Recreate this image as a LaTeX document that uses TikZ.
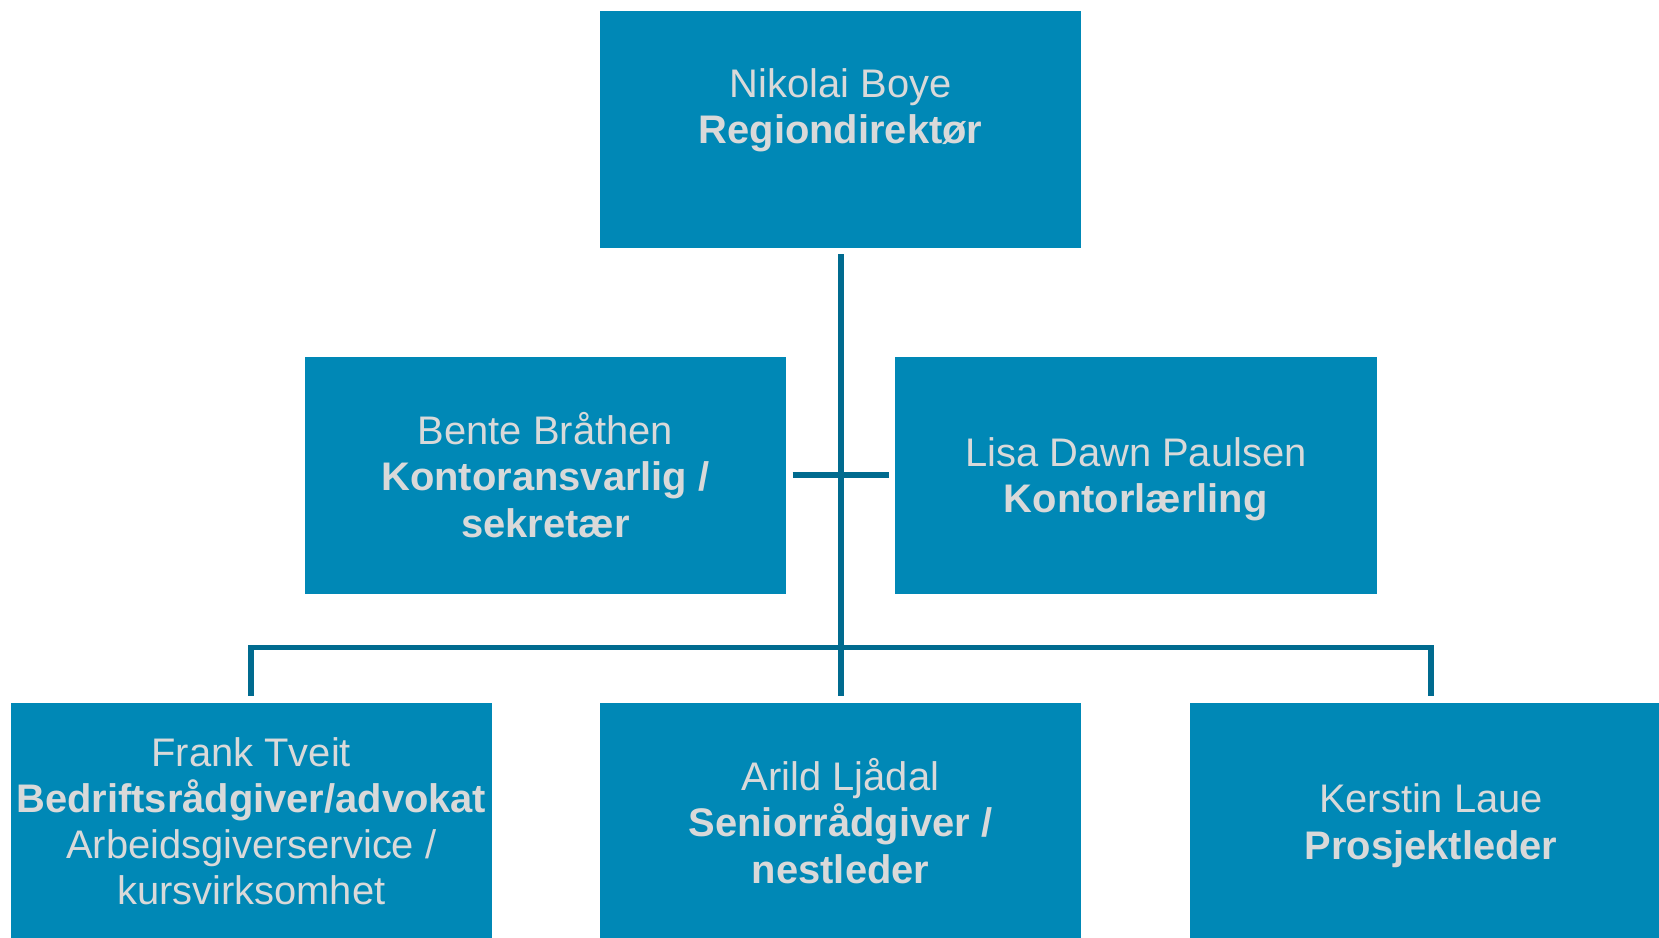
\documentclass[tikz,border=0pt]{standalone}
\usepackage{fontspec}
\setmainfont{Liberation Sans}
\definecolor{boxblue}{RGB}{0,136,182}
\definecolor{txtgrey}{RGB}{217,217,217}
\definecolor{linecol}{RGB}{0,107,143}
\begin{document}
\begin{tikzpicture}[x=1pt,y=1pt,
  orgbox/.style={fill=boxblue, draw=none, minimum width=455pt, minimum height=224pt,
    inner sep=0pt, align=center, text=txtgrey, font=\fontsize{37.7}{43.6}\selectfont},
  conn/.style={draw=linecol, line width=5.5pt, line join=miter, shorten <=6pt, shorten >=6pt}]
\useasboundingbox (0,0) rectangle (1568,886);
% boxes (y measured from bottom: y = 886 - y_screen)
\node[orgbox] (top) at (794.5,764) {Nikolai Boye\\\textbf{Regiondirektør}\\\mbox{}};
\node[orgbox] (ml) at (515.5,437) {Bente Bråthen\\\textbf{Kontoransvarlig /}\\\textbf{sekretær}};
\node[orgbox] (mr) at (1073.5,437) {\rule{0pt}{36pt}Lisa Dawn Paulsen\\\textbf{Kontorlærling}};
\node[orgbox] (bl) at (237.5,110) {Frank Tveit\\\textbf{Bedriftsrådgiver/advokat}\\Arbeidsgiverservice /\\kursvirksomhet};
\node[orgbox] (bm) at (794.5,110) {Arild Ljådal\\\textbf{Seniorrådgiver /}\\\textbf{nestleder}};
\node[orgbox] (br) at (1352.5,110) {\rule{0pt}{36pt}Kerstin Laue\\\textbf{Prosjektleder}};
\coordinate (busy) at (0,274);
% connectors
\draw[conn] (top.south) -- (bm.north);
\draw[conn] (ml.east) -- (mr.west);
\draw[conn] (bl.north) |- (busy -| br.north) -- (br.north);
\end{tikzpicture}
\end{document}
